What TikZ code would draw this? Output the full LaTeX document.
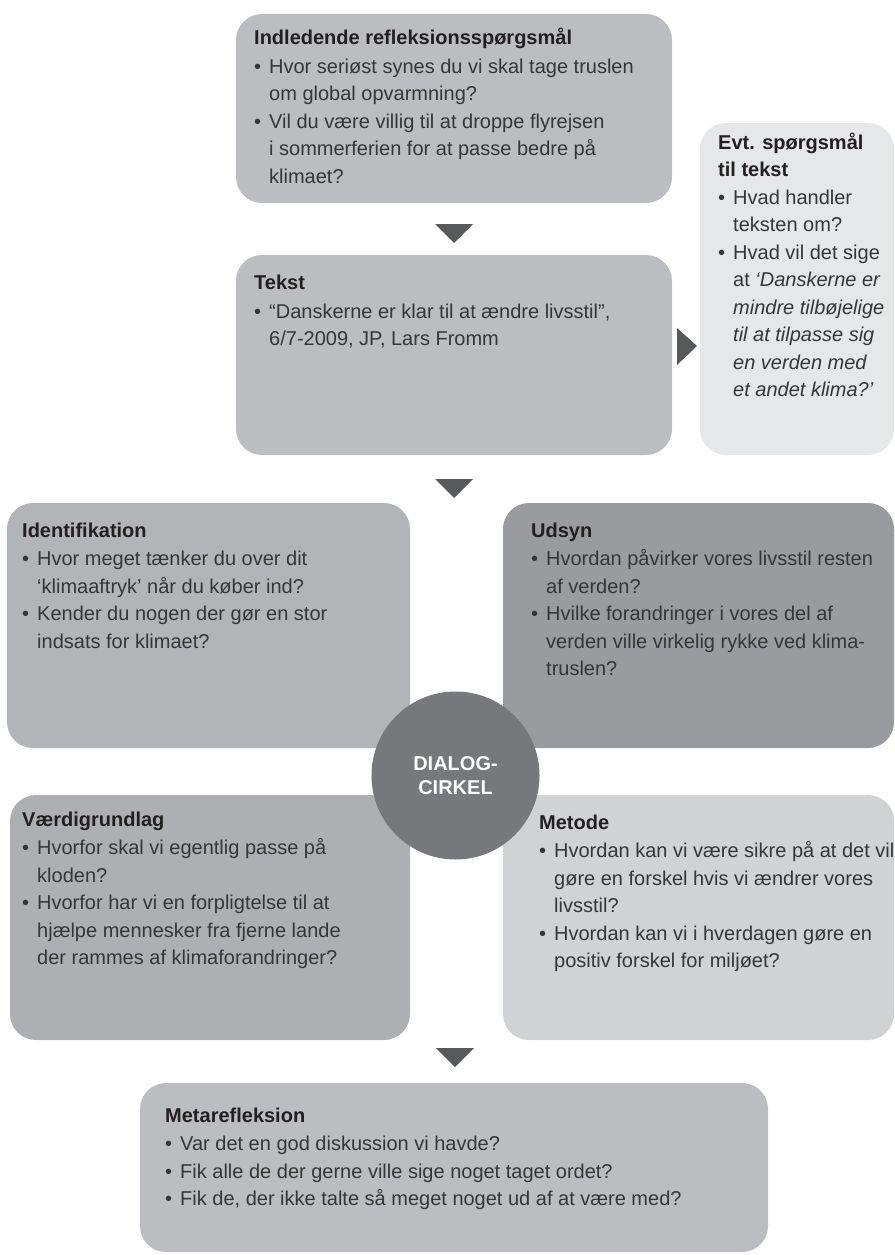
\documentclass[tikz,border=0pt]{standalone}
\usepackage{fontspec}
\setmainfont{Liberation Sans}
\usetikzlibrary{calc}
\definecolor{boxmid}{HTML}{BCBDC0}
\definecolor{boxlight}{HTML}{E6E7E8}
\definecolor{boxident}{HTML}{B3B4B7}
\definecolor{boxudsyn}{HTML}{9A9B9E}
\definecolor{boxvaerdi}{HTML}{AEAFB2}
\definecolor{boxmetode}{HTML}{D1D2D4}
\definecolor{circgray}{HTML}{77787B}
\definecolor{arrowgray}{HTML}{58595B}
\definecolor{bodygray}{HTML}{363636}
\definecolor{titleblack}{HTML}{231F20}
\newcommand{\bl}{\makebox[15pt][l]{\textbullet}}
\newcommand{\ct}{\hspace*{15pt}}
\newcommand{\ttl}[1]{\rule{0pt}{18pt}\textcolor{titleblack}{\textbf{#1}}}
\tikzset{
  panel/.style={draw=none, rounded corners=26pt, anchor=north west, inner sep=0pt, outer sep=0pt},
  txt/.style={anchor=north west, inner sep=0pt, align=left, text=bodygray,
    font=\fontsize{20}{27.5}\selectfont},
  tri/.style={fill=arrowgray, draw=none},
}
\begin{document}
\begin{tikzpicture}[x=1pt, y=-1pt]
\useasboundingbox (0,0) rectangle (894,1255);
% panels
\node[panel, fill=boxmid, minimum width=436pt, minimum height=189pt] (b1) at (236,14) {};
\node[panel, fill=boxmid, minimum width=436pt, minimum height=200pt] (b2) at (236,255) {};
\node[panel, fill=boxlight, minimum width=194pt, minimum height=332pt] (b3) at (700,123) {};
\node[panel, fill=boxident, minimum width=403pt, minimum height=245pt] (ident) at (7,503) {};
\node[panel, fill=boxudsyn, minimum width=391pt, minimum height=245pt] (udsyn) at (503,503) {};
\node[panel, fill=boxvaerdi, minimum width=400pt, minimum height=245pt] (vaerdi) at (10,795) {};
\node[panel, fill=boxmetode, minimum width=391pt, minimum height=245pt] (metode) at (503,795) {};
\node[panel, fill=boxmid, minimum width=628pt, minimum height=169pt] (meta) at (140,1083) {};
% circle
\node[circle, fill=circgray, minimum size=168pt, inner sep=0pt, text=white, align=center,
  font=\bfseries\fontsize{20}{23.5}\selectfont] (dc) at (455.5,775.5) {DIALOG-\\CIRKEL};
% arrow triangles
\fill[tri] ($(b1.south)+(-19,21)$) -- ($(b1.south)+(19,21)$) -- ($(b1.south)+(0,40)$) -- cycle;
\fill[tri] ($(b2.east)+(5,-27)$) -- ($(b2.east)+(5,10)$) -- ($(b2.east)+(25,-9)$) -- cycle;
\fill[tri] ($(b2.south)+(-19,24)$) -- ($(b2.south)+(19,24)$) -- ($(b2.south)+(0,43)$) -- cycle;
\fill[tri] ($(meta.north)+(-18,-35)$) -- ($(meta.north)+(20,-35)$) -- ($(meta.north)+(1,-16)$) -- cycle;
% texts
\node[txt] (t1) at (254,26) {\ttl{Indledende refleksionsspørgsmål}\\[1.5pt]
\bl Hvor seriøst synes du vi skal tage truslen\\
\ct om global opvarmning?\\
\bl Vil du være villig til at droppe flyrejsen\\
\ct i sommerferien for at passe bedre på\\
\ct klimaet?};
\node[txt] (t2) at (254,271) {\ttl{Tekst}\\[1.5pt]
\bl “Danskerne er klar til at ændre livsstil”,\\
\ct 6/7-2009, JP, Lars Fromm};
\node[txt] (t3) at (718,131) {\ttl{Evt. spørgsmål}\\
\textcolor{titleblack}{\textbf{til tekst}}\\
\bl Hvad handler\\
\ct teksten om?\\
\bl Hvad vil det sige\\
\ct at \textit{‘Danskerne er}\\
\ct \textit{mindre tilbøjelige}\\
\ct \textit{til at tilpasse sig}\\
\ct \textit{en verden med}\\
\ct \textit{et andet klima?’}};
\node[txt] (t4) at (22,519) {\ttl{Identifikation}\\[1pt]
\bl Hvor meget tænker du over dit\\
\ct ‘klimaaftryk’ når du køber ind?\\
\bl Kender du nogen der gør en stor\\
\ct indsats for klimaet?};
\node[txt] (t5) at (531,519) {\ttl{Udsyn}\\[1pt]
\bl Hvordan påvirker vores livsstil resten\\
\ct af verden?\\
\bl Hvilke forandringer i vores del af\\
\ct verden ville virkelig rykke ved klima-\\
\ct truslen?};
\node[txt] (t6) at (22,808) {\ttl{Værdigrundlag}\\[1pt]
\bl Hvorfor skal vi egentlig passe på\\
\ct kloden?\\
\bl Hvorfor har vi en forpligtelse til at\\
\ct hjælpe mennesker fra fjerne lande\\
\ct der rammes af klimaforandringer?};
\node[txt] (t7) at (539,811) {\ttl{Metode}\\[1pt]
\bl Hvordan kan vi være sikre på at det vil\\
\ct gøre en forskel hvis vi ændrer vores\\
\ct livsstil?\\
\bl Hvordan kan vi i hverdagen gøre en\\
\ct positiv forskel for miljøet?};
\node[txt] (t8) at (165,1104) {\ttl{Metarefleksion}\\[1pt]
\bl Var det en god diskussion vi havde?\\
\bl Fik alle de der gerne ville sige noget taget ordet?\\
\bl Fik de, der ikke talte så meget noget ud af at være med?};
\end{tikzpicture}
\end{document}
